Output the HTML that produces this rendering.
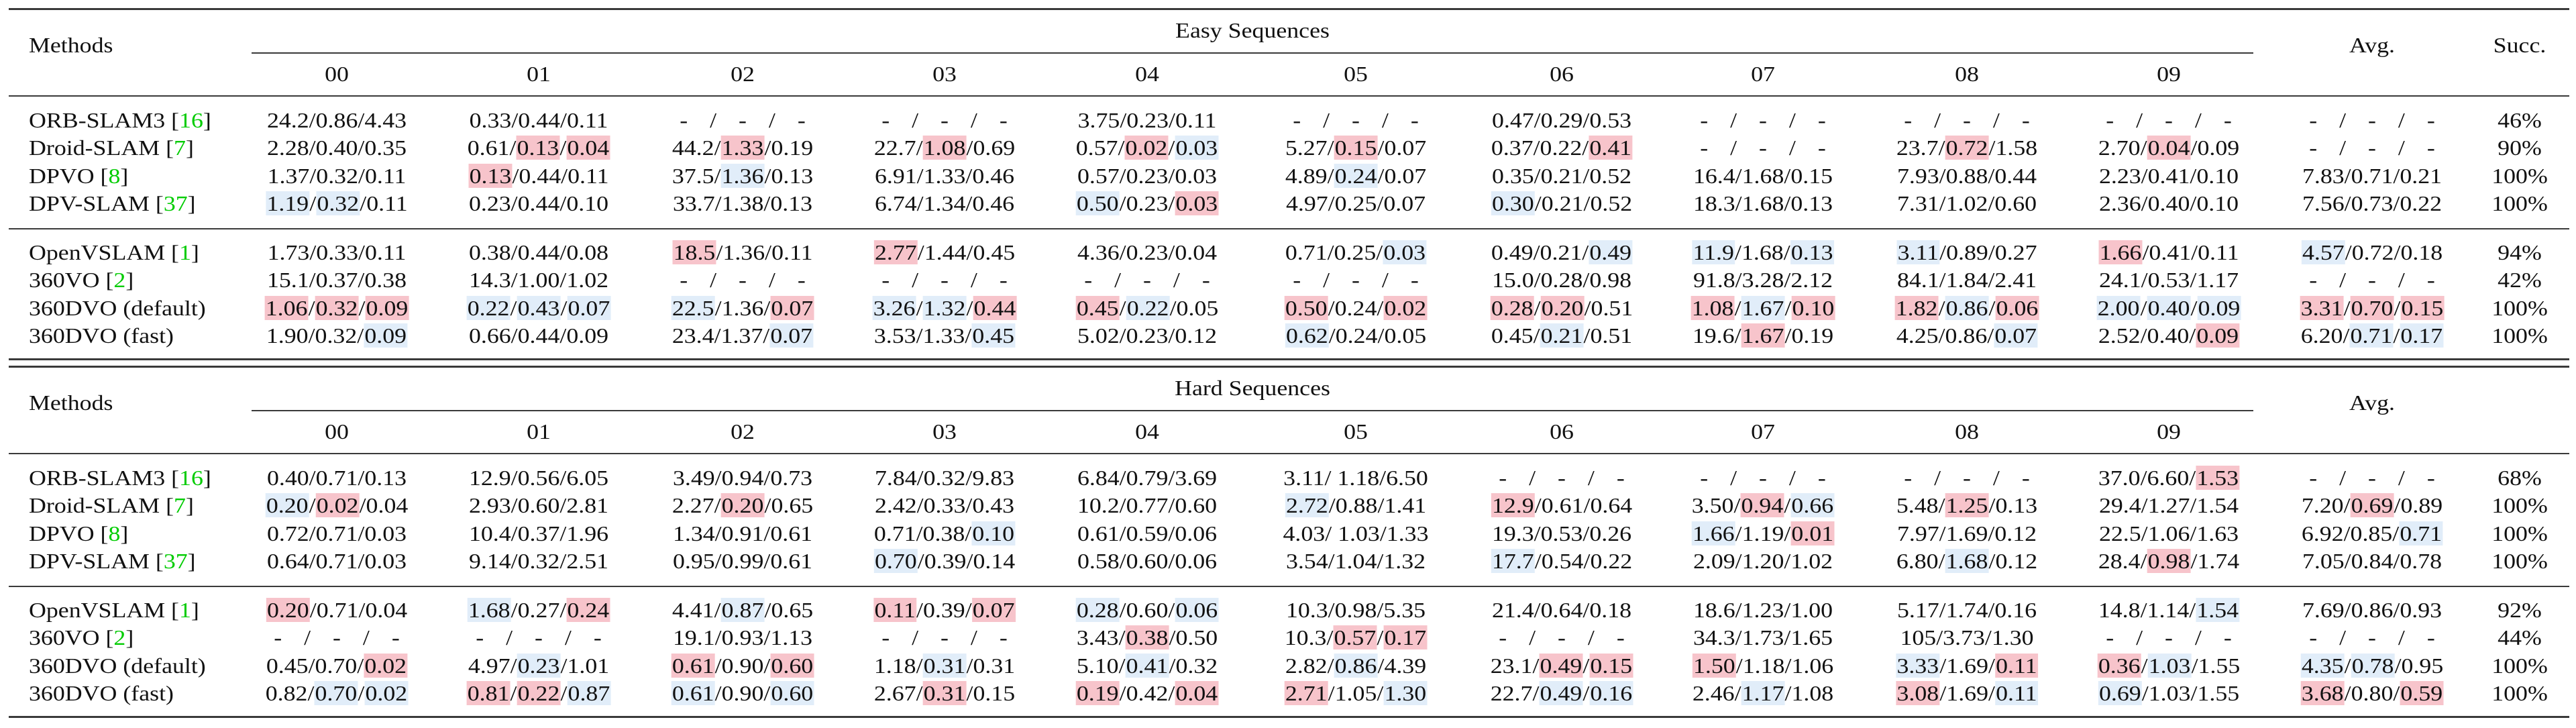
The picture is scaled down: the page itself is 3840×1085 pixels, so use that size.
<!DOCTYPE html>
<html><head><meta charset="utf-8">
<style>
html,body{margin:0;padding:0;background:#fff;}
body{width:3840px;height:1085px;position:relative;overflow:hidden;font-family:"Liberation Serif",serif;color:#111;}
.t{position:absolute;font-size:32px;line-height:36px;white-space:nowrap;}
.c{transform:translateX(-50%) scaleX(1.12);transform-origin:50% 50%;}
.l{transform:scaleX(1.12);transform-origin:0 50%;}
.r{background:#f7c4cb;padding:0 1px;}
.b{background:#e1edf9;padding:0 1px;}
.d{word-spacing:0.67em;}
.g{color:#00cc00;}
.rule{position:absolute;left:13px;width:3817px;background:#3a3a3a;}
.cl{position:absolute;left:375px;width:2984px;height:2px;background:#3a3a3a;}
</style></head><body>
<div id="root"></div>
<script>
const root=document.getElementById('root');
const cols=[502,803,1107,1408,1710,2021,2328,2628,2932,3233,3536];
const succX=3756;
function add(html,x,base,cls){const d=document.createElement('div');d.className='t '+cls;d.style.left=x+'px';d.style.top=(base-29)+'px';d.innerHTML=html;root.appendChild(d);}
function rule(y,h){const d=document.createElement('div');d.className='rule';d.style.top=y+'px';d.style.height=h+'px';root.appendChild(d);}
function cl(y){const d=document.createElement('div');d.className='cl';d.style.top=y+'px';root.appendChild(d);}
function cell(s){
 if(s==='D') return '<span class="d">- / - / -</span>';
 return s.split('/').map(p=>{
   let pre='';if(p.startsWith(' ')){pre=' ';p=p.slice(1);}
   if(p[0]==='*') return pre+'<span class="r">'+p.slice(1)+'</span>';
   if(p[0]==='+') return pre+'<span class="b">'+p.slice(1)+'</span>';
   return pre+p;}).join('/');
}
const names=['ORB-SLAM3 [<span class="g">16</span>]','Droid-SLAM [<span class="g">7</span>]','DPVO [<span class="g">8</span>]','DPV-SLAM [<span class="g">37</span>]','OpenVSLAM [<span class="g">1</span>]','360VO [<span class="g">2</span>]','360DVO (default)','360DVO (fast)'];
const easy=[
['24.2/0.86/4.43','0.33/0.44/0.11','D','D','3.75/0.23/0.11','D','0.47/0.29/0.53','D','D','D','D','46%'],
['2.28/0.40/0.35','0.61/*0.13/*0.04','44.2/*1.33/0.19','22.7/*1.08/0.69','0.57/*0.02/+0.03','5.27/*0.15/0.07','0.37/0.22/*0.41','D','23.7/*0.72/1.58','2.70/*0.04/0.09','D','90%'],
['1.37/0.32/0.11','*0.13/0.44/0.11','37.5/+1.36/0.13','6.91/1.33/0.46','0.57/0.23/0.03','4.89/+0.24/0.07','0.35/0.21/0.52','16.4/1.68/0.15','7.93/0.88/0.44','2.23/0.41/0.10','7.83/0.71/0.21','100%'],
['+1.19/+0.32/0.11','0.23/0.44/0.10','33.7/1.38/0.13','6.74/1.34/0.46','+0.50/0.23/*0.03','4.97/0.25/0.07','+0.30/0.21/0.52','18.3/1.68/0.13','7.31/1.02/0.60','2.36/0.40/0.10','7.56/0.73/0.22','100%'],
['1.73/0.33/0.11','0.38/0.44/0.08','*18.5/1.36/0.11','*2.77/1.44/0.45','4.36/0.23/0.04','0.71/0.25/+0.03','0.49/0.21/+0.49','+11.9/1.68/+0.13','+3.11/0.89/0.27','*1.66/0.41/0.11','+4.57/0.72/0.18','94%'],
['15.1/0.37/0.38','14.3/1.00/1.02','D','D','D','D','15.0/0.28/0.98','91.8/3.28/2.12','84.1/1.84/2.41','24.1/0.53/1.17','D','42%'],
['*1.06/*0.32/*0.09','+0.22/+0.43/+0.07','+22.5/1.36/*0.07','+3.26/+1.32/*0.44','*0.45/+0.22/0.05','*0.50/0.24/*0.02','*0.28/*0.20/0.51','*1.08/+1.67/*0.10','*1.82/+0.86/*0.06','+2.00/+0.40/+0.09','*3.31/*0.70/*0.15','100%'],
['1.90/0.32/+0.09','0.66/0.44/0.09','23.4/1.37/+0.07','3.53/1.33/+0.45','5.02/0.23/0.12','+0.62/0.24/0.05','0.45/+0.21/0.51','19.6/*1.67/0.19','4.25/0.86/+0.07','2.52/0.40/*0.09','6.20/+0.71/+0.17','100%']];
const hard=[
['0.40/0.71/0.13','12.9/0.56/6.05','3.49/0.94/0.73','7.84/0.32/9.83','6.84/0.79/3.69','3.11/ 1.18/6.50','D','D','D','37.0/6.60/*1.53','D','68%'],
['+0.20/*0.02/0.04','2.93/0.60/2.81','2.27/*0.20/0.65','2.42/0.33/0.43','10.2/0.77/0.60','+2.72/0.88/1.41','*12.9/0.61/0.64','3.50/*0.94/+0.66','5.48/*1.25/0.13','29.4/1.27/1.54','7.20/*0.69/0.89','100%'],
['0.72/0.71/0.03','10.4/0.37/1.96','1.34/0.91/0.61','0.71/0.38/+0.10','0.61/0.59/0.06','4.03/ 1.03/1.33','19.3/0.53/0.26','+1.66/1.19/*0.01','7.97/1.69/0.12','22.5/1.06/1.63','6.92/0.85/+0.71','100%'],
['0.64/0.71/0.03','9.14/0.32/2.51','0.95/0.99/0.61','+0.70/0.39/0.14','0.58/0.60/0.06','3.54/1.04/1.32','+17.7/0.54/0.22','2.09/1.20/1.02','6.80/+1.68/0.12','28.4/*0.98/1.74','7.05/0.84/0.78','100%'],
['*0.20/0.71/0.04','+1.68/0.27/*0.24','4.41/+0.87/0.65','*0.11/0.39/*0.07','+0.28/0.60/+0.06','10.3/0.98/5.35','21.4/0.64/0.18','18.6/1.23/1.00','5.17/1.74/0.16','14.8/1.14/+1.54','7.69/0.86/0.93','92%'],
['D','D','19.1/0.93/1.13','D','3.43/*0.38/0.50','10.3/*0.57/*0.17','D','34.3/1.73/1.65','105/3.73/1.30','D','D','44%'],
['0.45/0.70/*0.02','4.97/+0.23/1.01','*0.61/0.90/*0.60','1.18/+0.31/0.31','5.10/+0.41/0.32','2.82/+0.86/4.39','23.1/*0.49/*0.15','*1.50/1.18/1.06','+3.33/1.69/*0.11','*0.36/+1.03/1.55','+4.35/+0.78/0.95','100%'],
['0.82/+0.70/+0.02','*0.81/*0.22/+0.87','+0.61/0.90/+0.60','2.67/*0.31/0.15','*0.19/0.42/*0.04','*2.71/1.05/+1.30','22.7/+0.49/+0.16','2.46/+1.17/1.08','*3.08/1.69/+0.11','+0.69/1.03/1.55','*3.68/0.80/*0.59','100%']];
const rowBase=[190,231,273,314,387,428,470,511];
function section(off,title,data,succ){
 rule(12+off,3);
 add(title,1867,56+off,'c');
 add('Methods',43,78+off,'l');
 add('Avg.',3536,78+off,'c');
 if(succ) add('Succ.',succX,78+off,'c');
 cl(78+off);
 for(let i=0;i<10;i++) add('0'+i,cols[i],121+off,'c');
 rule(142+off,2);
 data.forEach((row,ri)=>{
   const y=rowBase[ri]+off;
   add(names[ri],43,y,'l');
   for(let j=0;j<11;j++) add(cell(row[j]),cols[j],y,'c');
   add(row[11],succX,y,'c');
 });
 rule(340+off,2);
}
section(0,'Easy Sequences',easy,true);
rule(534,3);
section(533,'Hard Sequences',hard,false);
rule(1067,3);
</script>
</body></html>
